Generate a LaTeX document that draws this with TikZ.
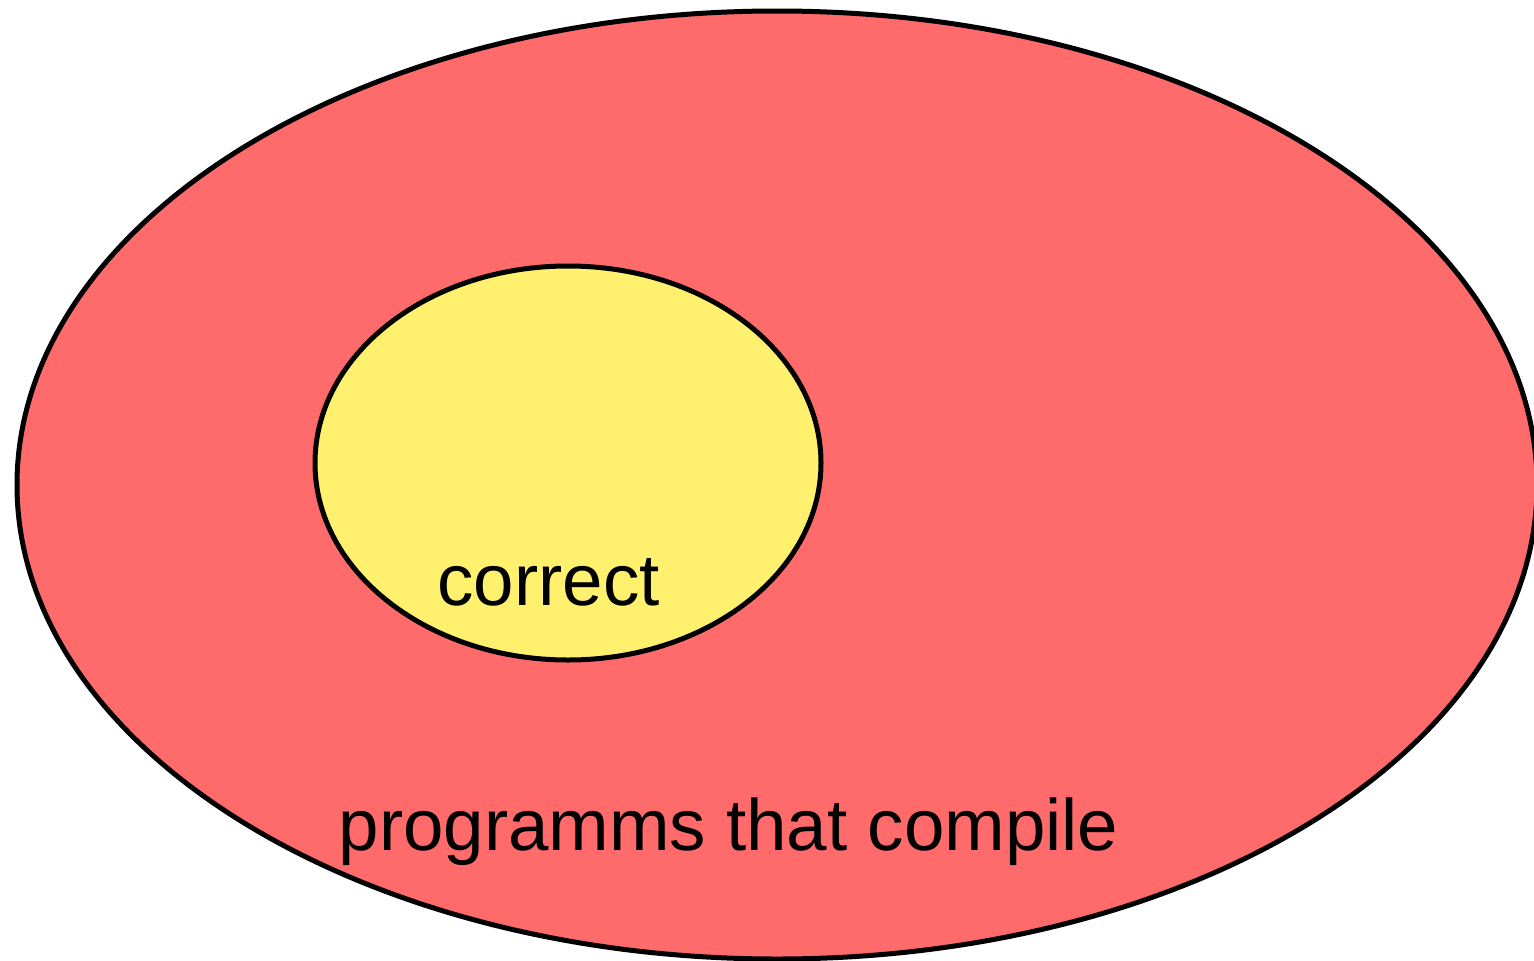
\documentclass[tikz,border=0pt]{standalone}
\usepackage{fontspec}
\setmainfont{Liberation Sans}
\definecolor{setred}{RGB}{255,107,107}
\definecolor{setyellow}{RGB}{255,240,110}
\begin{document}
\begin{tikzpicture}[x=1pt,y=-1pt,
  setshape/.style={draw=black,line width=5pt},
  setlabel/.style={anchor=base,inner sep=0pt,font=\fontsize{72.7}{87}\selectfont}]
\useasboundingbox (0,0) rectangle (1534,961);
\clip (0,0) rectangle (1534,961);
% outer set and inner subset
\draw[setshape,fill=setred] (777,485) ellipse [x radius=760, y radius=474];
\draw[setshape,fill=setyellow] (568,463) ellipse [x radius=253, y radius=197];
\node[setlabel] (inner) at (548.5,605) {correct};
\node[setlabel] (outer) at (728.5,850) {programms that compile};
\end{tikzpicture}
\end{document}
